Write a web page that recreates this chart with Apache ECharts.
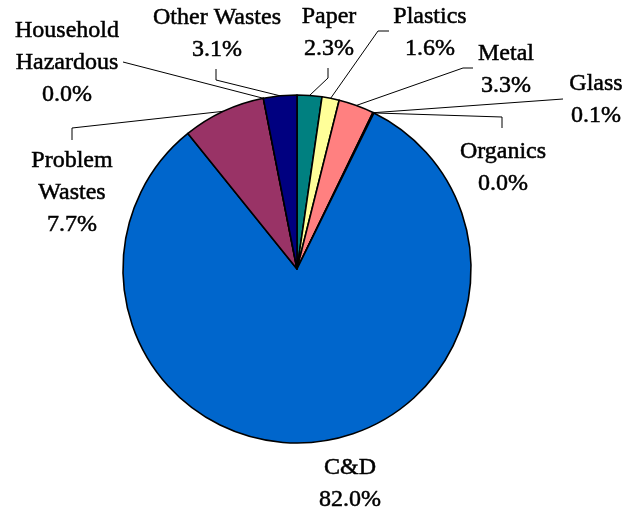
<!DOCTYPE html>
<html>
<head>
<meta charset="utf-8">
<script src="https://cdn.jsdelivr.net/npm/echarts@6/dist/echarts.min.js"></script>
<style>
  html, body { margin: 0; padding: 0; background: #ffffff; }
  #chart { width: 624px; height: 513px; }
</style>
</head>
<body>
<div id="chart"></div>
<script>
// Waste stream shares, clockwise from 12 o'clock
const categories = ['Paper', 'Plastics', 'Metal', 'Glass', 'Organics', 'C&D',
  'Problem Wastes', 'Household Hazardous', 'Other Wastes'];
const labelNames = ['Paper', 'Plastics', 'Metal', 'Glass', 'Organics', 'C&D',
  'Problem\nWastes', 'Household\nHazardous', 'Other Wastes'];
const shares = [2.3, 1.6, 3.3, 0.1, 0.0, 82.0, 7.7, 0.0, 3.1];
const sliceColors = ['#008080', '#FFFF99', '#FF8080', '#CCFFFF', '#9999FF',
  '#0066CC', '#993366', '#FFFFCC', '#000080'];

// Pie geometry
const PIE_CENTER = [297, 269];
const PIE_RADIUS = 174;

// Where each label block sits (its centre) and the bends of its leader line
const labelSpots = {
  'Paper':               { x: 329, y: 33,  bends: [[328, 78], [328, 68]] },
  'Plastics':            { x: 430, y: 33,  bends: [[378, 31], [389, 31]] },
  'Metal':               { x: 506, y: 70,  bends: [[463, 68], [473, 68]] },
  'Glass':               { x: 596, y: 100, bends: [[563, 99]] },
  'Organics':            { x: 503, y: 168, bends: [[502, 117], [502, 128]] },
  'C&D':                 { x: 350, y: 484, bends: null },
  'Problem Wastes':      { x: 72,  y: 193, bends: [[72, 128], [72, 140]] },
  'Household Hazardous': { x: 67,  y: 63,  bends: [[123, 62]] },
  'Other Wastes':        { x: 217, y: 34,  bends: [[216, 80], [216, 69]] }
};

// Point on the rim at the middle of a slice (fallback when the pie gives none)
function rimPoint(idx) {
  const total = shares.reduce((a, b) => a + b, 0);
  let before = 0;
  for (let i = 0; i < idx; i++) before += shares[i];
  const mid = (before + shares[idx] / 2) / total * Math.PI * 2;
  return [PIE_CENTER[0] + PIE_RADIUS * Math.sin(mid),
          PIE_CENTER[1] - PIE_RADIUS * Math.cos(mid)];
}

const pieData = categories.map((name, i) => ({
  name: name,
  value: shares[i],
  itemStyle: { color: sliceColors[i] },
  labelLine: { show: labelSpots[name].bends !== null }
}));

const chart = echarts.init(document.getElementById('chart'), null, { renderer: 'canvas' });

chart.setOption({
  backgroundColor: '#ffffff',
  animation: false,
  series: [{
    type: 'pie',
    center: PIE_CENTER,
    radius: PIE_RADIUS,
    startAngle: 90,
    clockwise: true,
    avoidLabelOverlap: false,
    minShowLabelAngle: 0,
    data: pieData,
    itemStyle: { borderColor: '#000000', borderWidth: 1.6 },
    emphasis: { disabled: true },
    label: {
      show: true,
      position: 'outside',
      fontFamily: 'Liberation Serif',
      fontSize: 24,
      lineHeight: 32,
      color: '#000000',
      textBorderColor: '#000000',
      textBorderWidth: 0.5,
      align: 'center',
      formatter: p => labelNames[p.dataIndex] + '\n' + p.value.toFixed(1) + '%'
    },
    labelLine: {
      show: true,
      length: 10,
      length2: 10,
      lineStyle: { color: '#000000', width: 1 }
    },
    labelLayout: function (params) {
      const spot = labelSpots[categories[params.dataIndex]];
      const out = { x: spot.x, y: spot.y, align: 'center', verticalAlign: 'middle' };
      if (spot.bends) {
        const start = (params.labelLinePoints && params.labelLinePoints[0]) || rimPoint(params.dataIndex);
        out.labelLinePoints = [start].concat(spot.bends);
      }
      return out;
    }
  }]
});
</script>
</body>
</html>
